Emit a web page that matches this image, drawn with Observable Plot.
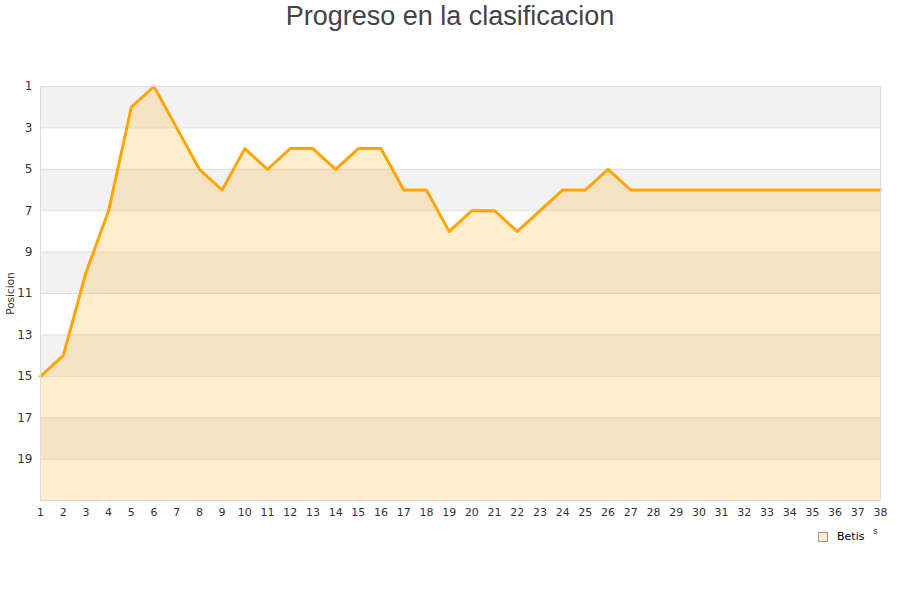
<!DOCTYPE html>
<html><head><meta charset="utf-8">
<script src="https://cdn.jsdelivr.net/npm/d3@7"></script>
<script src="https://cdn.jsdelivr.net/npm/@observablehq/plot@0.6"></script>
<style>
body{margin:0;background:#fff;font-family:"DejaVu Sans",sans-serif;}
#wrap{position:relative;width:900px;height:600px;}
#title{position:absolute;top:0;left:0;width:900px;text-align:center;font-family:"Liberation Sans",Arial,sans-serif;font-size:27px;color:#444;line-height:32px;}
#legend{position:absolute;left:818px;top:530px;font-size:11px;color:#000;display:flex;align-items:center;}
#legend span.sw{display:inline-block;width:8px;height:8px;border:1px solid #999;background:#fec;margin-right:9px;}
#clip{position:absolute;left:873px;top:526px;font-size:9px;color:#333;}
</style></head><body>
<div id="wrap">
<div id="title">Progreso en la clasificacion</div>
<div id="chart"></div>
<div id="legend"><span class="sw"></span>Betis</div>
<div id="clip">s</div>
</div>
<script>
const jornadas = [1,2,3,4,5,6,7,8,9,10,11,12,13,14,15,16,17,18,19,20,21,22,23,24,25,26,27,28,29,30,31,32,33,34,35,36,37,38];
const posicion = [15,14,10,7,2,1,3,5,6,4,5,4,4,5,4,4,6,6,8,7,7,8,7,6,6,5,6,6,6,6,6,6,6,6,6,6,6,6];
const yTicks = [1,3,5,7,9,11,13,15,17,19];
const bandStarts = [1,5,9,13,17];
const gridLines = [3,5,7,9,11,13,15,17,19];
const serieNombre = "Betis";

const data = jornadas.map((j,i)=>({j, p: posicion[i]}));
const bands = bandStarts.map(b=>({y1:b, y2:b+2}));

const chart = Plot.plot({
  width: 900, height: 600,
  marginTop: 86, marginBottom: 100, marginLeft: 40, marginRight: 20,
  style: {fontFamily: "DejaVu Sans, sans-serif", fontSize: "11px", color: "#333"},
  x: {domain: [1, 38], ticks: jornadas, tickSize: 0, tickPadding: 8, label: null, tickFormat: d=>d},
  y: {domain: [21, 1], ticks: yTicks, tickSize: 0, tickPadding: 8, label: null},
  marks: [
    Plot.rect(bands, {x1: 1, x2: 38, y1: "y1", y2: "y2", fill: "#f2f2f2"}),
    Plot.ruleY(gridLines, {stroke: "#e0e0e0", strokeWidth: 1}),
    Plot.areaY(data, {x: "j", y1: 21, y2: "p", fill: "#ffa500", fillOpacity: 0.2}),
    Plot.line(data, {x: "j", y: "p", stroke: "#ffa500", strokeWidth: 3}),
    Plot.frame({stroke: "#dcdcdc"}),
    Plot.axisY({ticks: yTicks, tickSize: 0, tickPadding: 8, fontSize: 12, label: null}),
    Plot.text(["Posicion"], {frameAnchor: "left", textAnchor: "middle", dx: -30, rotate: -90, fontSize: 10.5, fill: "#333"})
  ]
});
document.getElementById("chart").appendChild(chart);
</script>
</body></html>
